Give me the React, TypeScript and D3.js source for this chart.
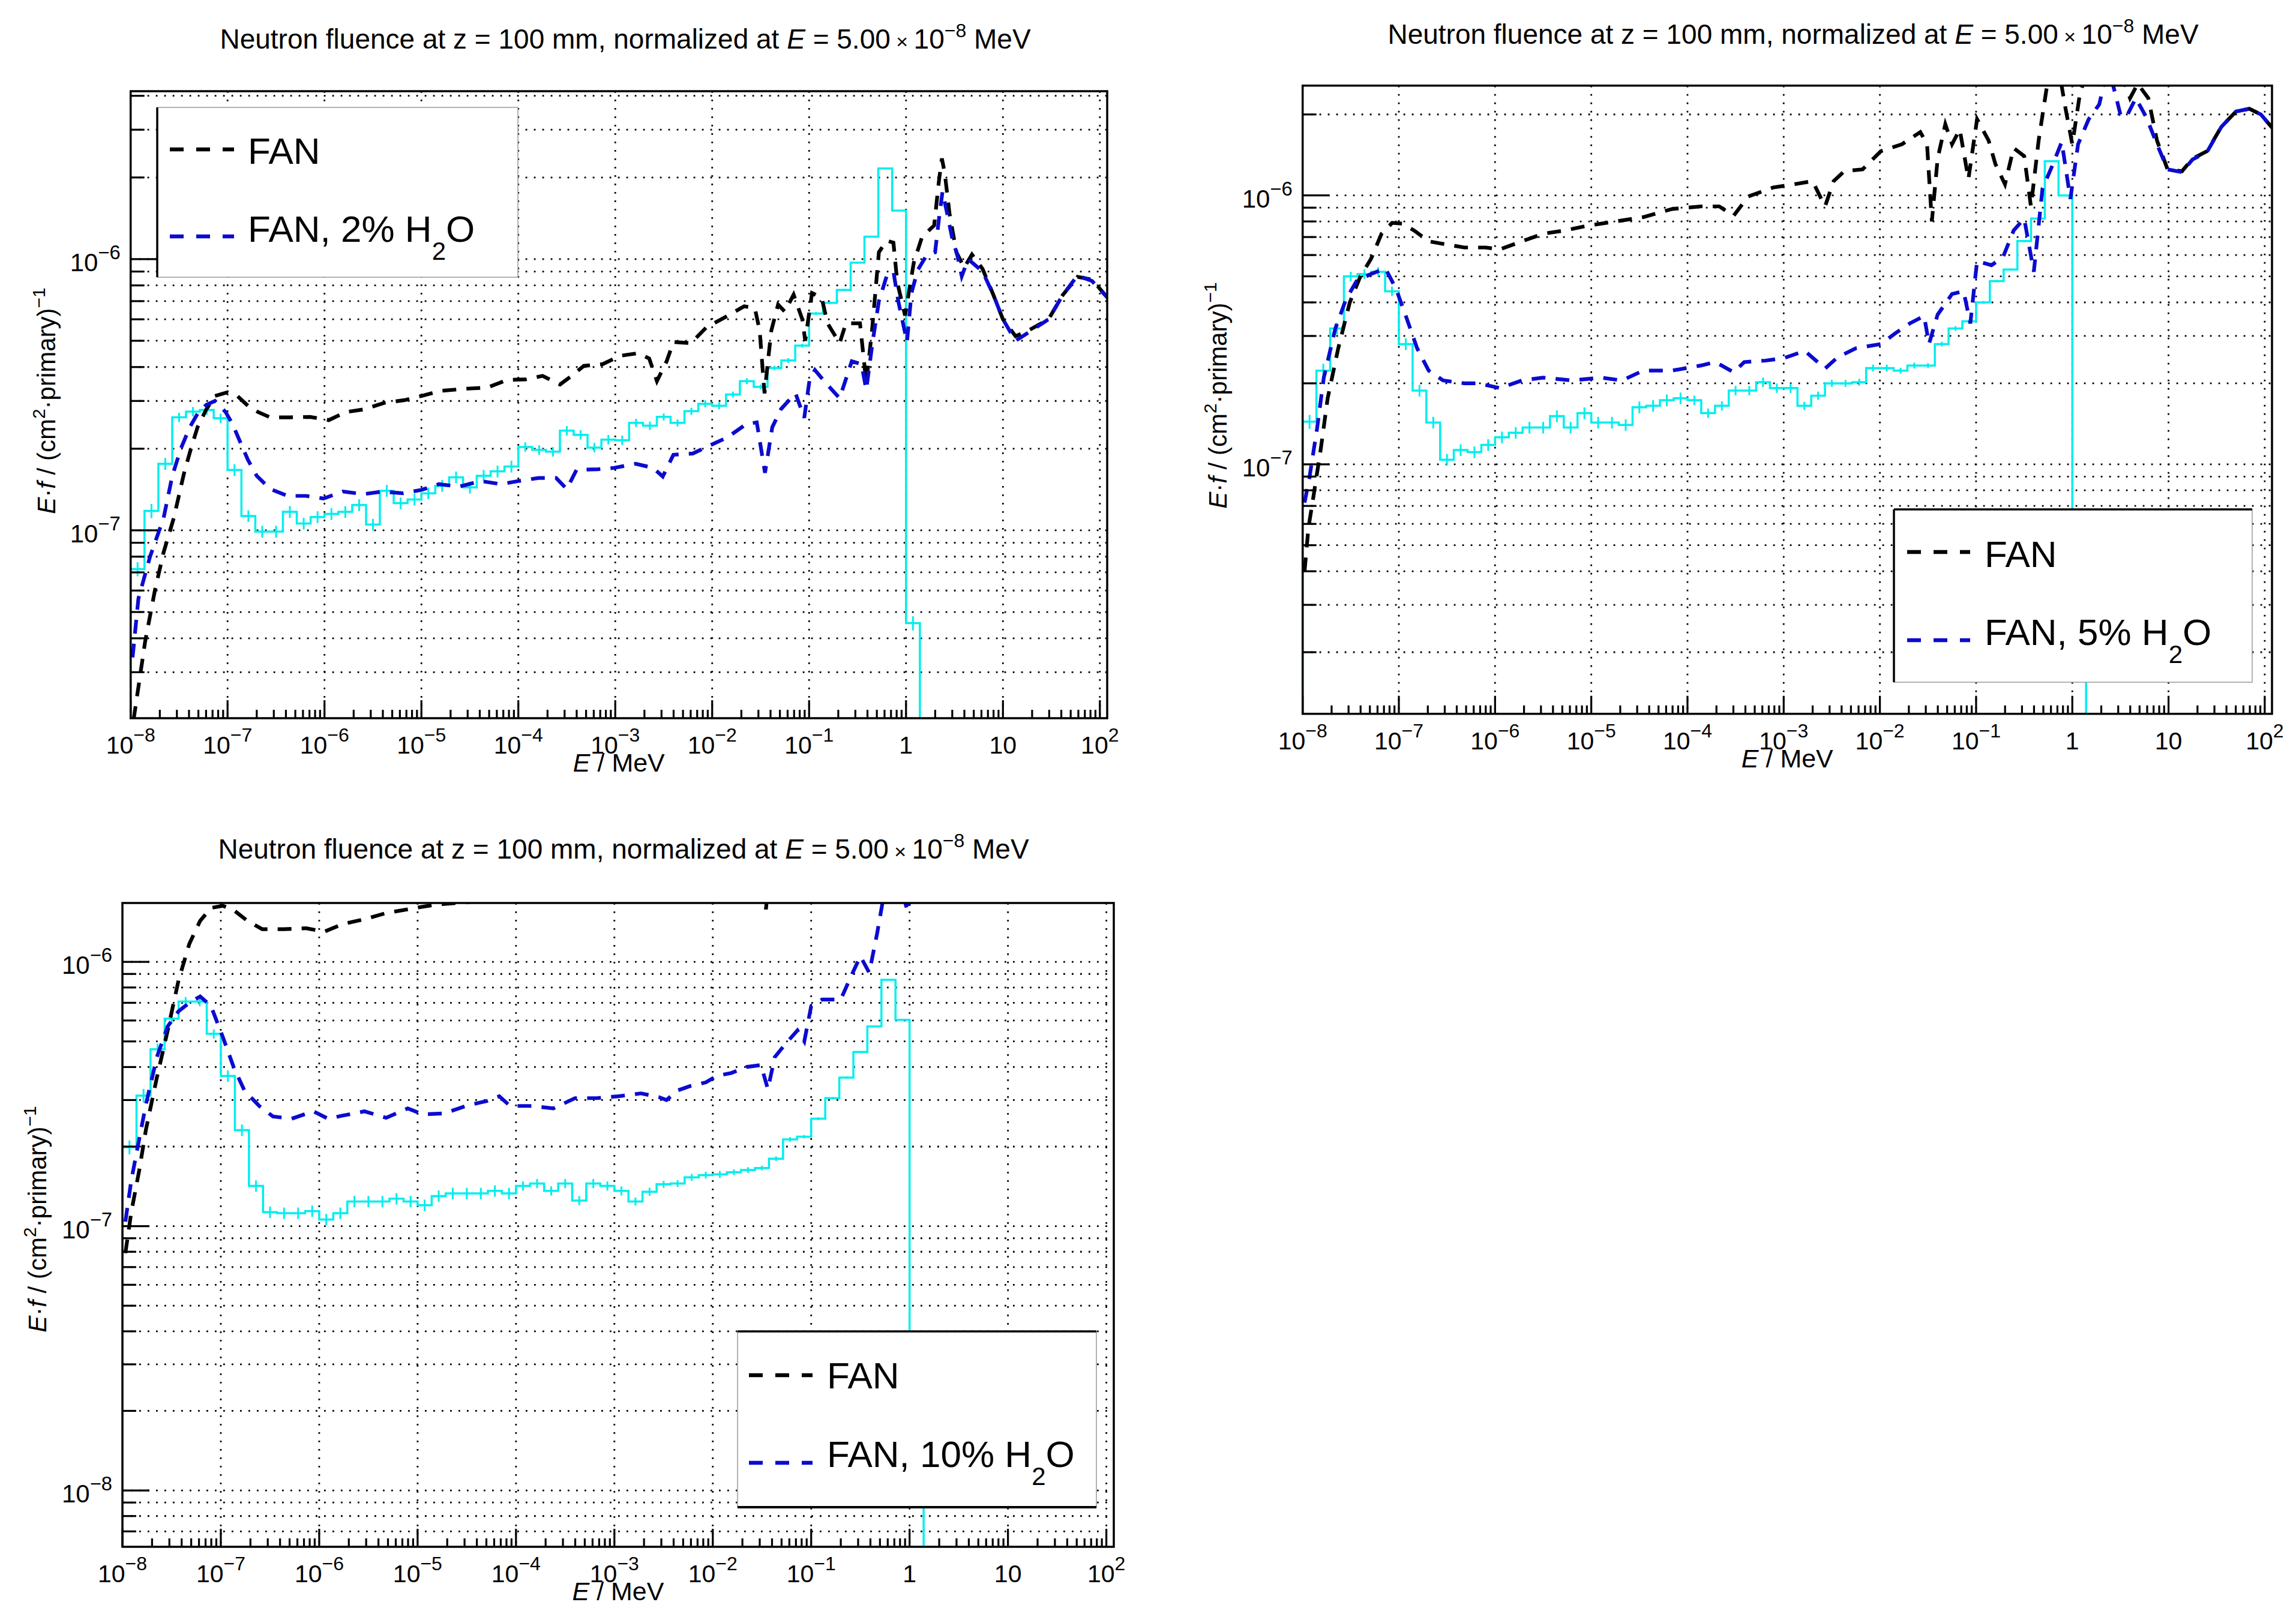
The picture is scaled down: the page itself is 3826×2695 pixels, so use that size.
import React from 'react';
import * as d3 from 'd3';

const W = 3826;
const H = 2695;
const FONT = '"Liberation Sans", Arial, Helvetica, sans-serif';
const BLUE = '#0b0bd0';
const CYAN = '#00eeee';

// energy axis, MeV
const X_DOMAIN: [number, number] = [1e-8, 119];
const X_DECADES = [-8, -7, -6, -5, -4, -3, -2, -1, 0, 1, 2];
const MINOR_MULT = [2, 3, 4, 5, 6, 7, 8, 9];

// histogram bin edges, log10(E / MeV), 7 bins per decade
const HIST_EDGES = [
  -8.000, -7.857, -7.714, -7.571, -7.429, -7.286, -7.143,
  -7.000, -6.857, -6.714, -6.571, -6.429, -6.286, -6.143,
  -6.000, -5.857, -5.714, -5.571, -5.429, -5.286, -5.143,
  -5.000, -4.857, -4.714, -4.571, -4.429, -4.286, -4.143,
  -4.000, -3.857, -3.714, -3.571, -3.429, -3.286, -3.143,
  -3.000, -2.857, -2.714, -2.571, -2.429, -2.286, -2.143,
  -2.000, -1.857, -1.714, -1.571, -1.429, -1.286, -1.143,
  -1.000, -0.857, -0.714, -0.571, -0.429, -0.286, -0.143,
  0.000, 0.143,
];

// relative errors of the histogram bins
const HIST_REL_ERR = [
  0.06, 0.06, 0.05, 0.04, 0.04, 0.04, 0.04, 0.05, 0.05, 0.05,
  0.05, 0.05, 0.05, 0.05, 0.05, 0.05, 0.05, 0.05, 0.05, 0.05,
  0.05, 0.05, 0.05, 0.05, 0.05, 0.05, 0.05, 0.05, 0.04, 0.04,
  0.04, 0.04, 0.04, 0.04, 0.04, 0.04, 0.035, 0.035, 0.03, 0.03,
  0.03, 0.03, 0.03, 0.025, 0.025, 0.02, 0.02, 0.02, 0.015, 0.012,
  0.01, 0.01, 0.008, 0.006, 0.005, 0.005, 0.06,
];

// panel 1 (2% H2O)
const HIST_2PCT = [
  7.2e-8, 1.18e-7, 1.76e-7, 2.61e-7, 2.74e-7, 2.78e-7, 2.59e-7, 1.67e-7, 1.13e-7, 9.9e-8,
  9.9e-8, 1.17e-7, 1.06e-7, 1.12e-7, 1.15e-7, 1.17e-7, 1.24e-7, 1.05e-7, 1.40e-7, 1.26e-7,
  1.30e-7, 1.37e-7, 1.46e-7, 1.57e-7, 1.44e-7, 1.59e-7, 1.65e-7, 1.72e-7, 2.03e-7, 1.98e-7,
  1.95e-7, 2.33e-7, 2.25e-7, 2.02e-7, 2.16e-7, 2.15e-7, 2.49e-7, 2.43e-7, 2.62e-7, 2.49e-7,
  2.75e-7, 2.93e-7, 2.88e-7, 3.17e-7, 3.55e-7, 3.38e-7, 3.97e-7, 4.23e-7, 4.8e-7, 6.3e-7,
  6.9e-7, 7.7e-7, 9.7e-7, 1.21e-6, 2.16e-6, 1.51e-6, 4.55e-8,
];
const FAN_1: [number, number][] = [
  [-7.97, 2.0e-8], [-7.85, 3.9e-8], [-7.75, 6.0e-8], [-7.66, 8.3e-8], [-7.555, 1.11e-7],
  [-7.45, 1.62e-7], [-7.38, 1.99e-7], [-7.31, 2.4e-7], [-7.22, 2.79e-7], [-7.13, 3.13e-7],
  [-7.0, 3.23e-7], [-6.9, 3.13e-7], [-6.79, 2.88e-7], [-6.685, 2.73e-7], [-6.56, 2.61e-7],
  [-6.36, 2.61e-7], [-6.15, 2.62e-7], [-5.955, 2.55e-7], [-5.78, 2.73e-7], [-5.6, 2.79e-7],
  [-5.385, 2.95e-7], [-5.175, 3.02e-7], [-5.0, 3.13e-7], [-4.8, 3.27e-7], [-4.53, 3.33e-7],
  [-4.32, 3.36e-7], [-4.11, 3.59e-7], [-3.93, 3.6e-7], [-3.75, 3.71e-7], [-3.57, 3.45e-7],
  [-3.45, 3.71e-7], [-3.325, 4.04e-7], [-3.13, 4.1e-7], [-2.95, 4.4e-7], [-2.76, 4.5e-7],
  [-2.65, 4.3e-7], [-2.57, 3.55e-7], [-2.47, 4.2e-7], [-2.4, 4.95e-7], [-2.22, 4.9e-7],
  [-2.06, 5.6e-7], [-1.87, 6.1e-7], [-1.67, 6.7e-7], [-1.56, 6.6e-7], [-1.51, 5.45e-7],
  [-1.46, 3.2e-7], [-1.39, 5.45e-7], [-1.32, 6.8e-7], [-1.25, 6.4e-7], [-1.16, 7.4e-7],
  [-1.07, 6.0e-7], [-1.04, 5.0e-7], [-0.97, 7.5e-7], [-0.87, 7.2e-7], [-0.81, 5.8e-7],
  [-0.685, 4.9e-7], [-0.62, 5.8e-7], [-0.475, 5.8e-7], [-0.41, 3.5e-7], [-0.35, 5.5e-7],
  [-0.28, 1.06e-6], [-0.2, 1.17e-6], [-0.13, 1.15e-6], [-0.09, 8.2e-7], [-0.01, 6.2e-7],
  [0.08, 9.7e-7], [0.166, 1.21e-6], [0.29, 1.33e-6], [0.34, 1.95e-6], [0.37, 2.35e-6],
  [0.4, 2.07e-6], [0.45, 1.46e-6], [0.52, 1.06e-6], [0.6, 9.3e-7], [0.68, 1.04e-6],
  [0.79, 9.2e-7], [0.9, 7.4e-7], [1.0, 6.0e-7], [1.13, 5.2e-7], [1.24, 5.4e-7],
  [1.47, 6.0e-7], [1.62, 7.4e-7], [1.77, 8.6e-7], [1.92, 8.4e-7], [2.08, 7.2e-7],
];
const WATER_2PCT: [number, number][] = [
  [-7.98, 3.4e-8], [-7.92, 5.6e-8], [-7.8, 8.0e-8], [-7.66, 1.11e-7], [-7.57, 1.59e-7],
  [-7.48, 2.01e-7], [-7.39, 2.4e-7], [-7.3, 2.73e-7], [-7.22, 2.9e-7], [-7.13, 3.0e-7],
  [-7.02, 2.73e-7], [-6.95, 2.47e-7], [-6.88, 2.16e-7], [-6.79, 1.82e-7], [-6.7, 1.59e-7],
  [-6.56, 1.42e-7], [-6.38, 1.34e-7], [-6.19, 1.34e-7], [-6.01, 1.31e-7], [-5.81, 1.39e-7],
  [-5.6, 1.36e-7], [-5.4, 1.39e-7], [-5.19, 1.37e-7], [-5.0, 1.41e-7], [-4.82, 1.48e-7],
  [-4.61, 1.45e-7], [-4.39, 1.52e-7], [-4.18, 1.48e-7], [-4.0, 1.52e-7], [-3.79, 1.56e-7],
  [-3.61, 1.56e-7], [-3.5, 1.42e-7], [-3.4, 1.67e-7], [-3.18, 1.68e-7], [-3.01, 1.7e-7],
  [-2.79, 1.76e-7], [-2.61, 1.7e-7], [-2.51, 1.58e-7], [-2.4, 1.9e-7], [-2.2, 1.92e-7],
  [-2.02, 2.06e-7], [-1.845, 2.2e-7], [-1.645, 2.47e-7], [-1.54, 2.5e-7], [-1.455, 1.63e-7],
  [-1.38, 2.4e-7], [-1.29, 2.8e-7], [-1.14, 3.2e-7], [-1.05, 2.6e-7], [-0.995, 3.6e-7],
  [-0.94, 3.9e-7], [-0.83, 3.5e-7], [-0.685, 3.07e-7], [-0.56, 4.2e-7], [-0.46, 4.1e-7],
  [-0.41, 3.3e-7], [-0.345, 4.95e-7], [-0.28, 7.0e-7], [-0.2, 8.65e-7], [-0.13, 9.0e-7],
  [-0.08, 7.0e-7], [0.01, 4.95e-7], [0.056, 7.5e-7], [0.12, 9.1e-7], [0.21, 1.03e-6],
  [0.3, 1.06e-6], [0.34, 1.41e-6], [0.376, 1.77e-6], [0.42, 1.5e-6], [0.475, 1.2e-6],
  [0.53, 1.03e-6], [0.575, 8.65e-7], [0.64, 1.0e-6], [0.79, 9.0e-7], [0.9, 7.4e-7],
  [1.0, 6.0e-7], [1.13, 5.0e-7], [1.24, 5.3e-7], [1.47, 6.0e-7], [1.62, 7.4e-7],
  [1.77, 8.7e-7], [1.92, 8.3e-7], [2.08, 7.2e-7],
];

// panel 2 (5% H2O)
const HIST_5PCT = [
  1.44e-7, 2.23e-7, 3.2e-7, 5.0e-7, 5.1e-7, 5.2e-7, 4.4e-7, 2.8e-7, 1.88e-7, 1.43e-7,
  1.04e-7, 1.13e-7, 1.11e-7, 1.18e-7, 1.26e-7, 1.31e-7, 1.37e-7, 1.37e-7, 1.51e-7, 1.37e-7,
  1.55e-7, 1.43e-7, 1.43e-7, 1.4e-7, 1.63e-7, 1.65e-7, 1.73e-7, 1.76e-7, 1.73e-7, 1.55e-7,
  1.65e-7, 1.88e-7, 1.88e-7, 2.02e-7, 1.92e-7, 1.92e-7, 1.65e-7, 1.8e-7, 2.0e-7, 2.0e-7,
  2.02e-7, 2.28e-7, 2.28e-7, 2.23e-7, 2.33e-7, 2.33e-7, 2.8e-7, 3.2e-7, 3.4e-7, 4.0e-7,
  4.8e-7, 5.3e-7, 6.76e-7, 8.2e-7, 1.34e-6, 1.0e-6, 3.0e-8,
];
const FAN_2: [number, number][] = [
  [-7.98, 4.0e-8], [-7.94, 5.8e-8], [-7.89, 7.5e-8], [-7.81, 1.15e-7], [-7.74, 1.76e-7],
  [-7.63, 2.7e-7], [-7.51, 4.0e-7], [-7.4, 5.0e-7], [-7.29, 5.8e-7], [-7.18, 7.2e-7],
  [-7.07, 7.9e-7], [-6.96, 7.85e-7], [-6.84, 7.4e-7], [-6.69, 6.75e-7], [-6.54, 6.6e-7],
  [-6.32, 6.4e-7], [-6.1, 6.4e-7], [-5.95, 6.3e-7], [-5.72, 6.75e-7], [-5.5, 7.2e-7],
  [-5.28, 7.4e-7], [-5.05, 7.7e-7], [-4.75, 8.0e-7], [-4.46, 8.3e-7], [-4.16, 8.9e-7],
  [-3.86, 9.1e-7], [-3.67, 9.1e-7], [-3.52, 8.4e-7], [-3.37, 9.9e-7], [-3.11, 1.07e-6],
  [-2.89, 1.1e-6], [-2.7, 1.13e-6], [-2.57, 9.1e-7], [-2.48, 1.13e-6], [-2.37, 1.23e-6],
  [-2.18, 1.25e-6], [-1.99, 1.46e-6], [-1.77, 1.55e-6], [-1.58, 1.72e-6], [-1.51, 1.55e-6],
  [-1.46, 8.0e-7], [-1.4, 1.37e-6], [-1.32, 1.84e-6], [-1.25, 1.55e-6], [-1.17, 1.76e-6],
  [-1.08, 1.15e-6], [-0.99, 1.92e-6], [-0.87, 1.6e-6], [-0.8, 1.31e-6], [-0.7, 1.1e-6],
  [-0.61, 1.5e-6], [-0.5, 1.4e-6], [-0.43, 9.1e-7], [-0.35, 1.6e-6], [-0.26, 2.6e-6],
  [-0.2, 2.9e-6], [-0.13, 2.8e-6], [-0.07, 2.1e-6], [0.0, 1.55e-6], [0.08, 2.4e-6],
  [0.17, 3.0e-6], [0.3, 3.4e-6], [0.38, 5.9e-6], [0.45, 3.7e-6], [0.53, 2.7e-6],
  [0.6, 2.3e-6], [0.68, 2.6e-6], [0.79, 2.3e-6], [0.88, 1.6e-6], [0.99, 1.25e-6],
  [1.14, 1.23e-6], [1.25, 1.37e-6], [1.4, 1.46e-6], [1.55, 1.8e-6], [1.7, 2.05e-6],
  [1.84, 2.1e-6], [1.96, 2.0e-6], [2.08, 1.78e-6],
];
const WATER_5PCT: [number, number][] = [
  [-7.98, 7.2e-8], [-7.93, 8.9e-8], [-7.85, 1.36e-7], [-7.78, 2.1e-7], [-7.66, 3.2e-7],
  [-7.55, 4.1e-7], [-7.44, 4.8e-7], [-7.29, 5.1e-7], [-7.14, 5.35e-7], [-7.03, 4.5e-7],
  [-6.92, 3.5e-7], [-6.81, 2.7e-7], [-6.69, 2.23e-7], [-6.54, 2.05e-7], [-6.32, 2.0e-7],
  [-6.17, 2.0e-7], [-5.95, 1.92e-7], [-5.72, 2.05e-7], [-5.5, 2.1e-7], [-5.2, 2.05e-7],
  [-4.9, 2.1e-7], [-4.68, 2.05e-7], [-4.46, 2.23e-7], [-4.16, 2.23e-7], [-3.86, 2.33e-7],
  [-3.71, 2.4e-7], [-3.52, 2.2e-7], [-3.41, 2.4e-7], [-3.19, 2.43e-7], [-3.0, 2.48e-7],
  [-2.78, 2.64e-7], [-2.57, 2.27e-7], [-2.44, 2.5e-7], [-2.25, 2.7e-7], [-1.99, 2.8e-7],
  [-1.84, 3.07e-7], [-1.69, 3.34e-7], [-1.54, 3.56e-7], [-1.49, 2.8e-7], [-1.4, 3.6e-7],
  [-1.25, 4.3e-7], [-1.13, 4.4e-7], [-1.06, 3.34e-7], [-0.99, 5.7e-7], [-0.84, 5.5e-7],
  [-0.72, 5.9e-7], [-0.61, 7.4e-7], [-0.5, 8.2e-7], [-0.4, 5.2e-7], [-0.31, 1.06e-6],
  [-0.2, 1.31e-6], [-0.11, 1.58e-6], [-0.02, 9.7e-7], [0.06, 1.55e-6], [0.17, 1.92e-6],
  [0.28, 2.18e-6], [0.36, 2.9e-6], [0.42, 2.6e-6], [0.5, 2.0e-6], [0.56, 1.95e-6],
  [0.66, 2.3e-6], [0.77, 1.95e-6], [0.88, 1.55e-6], [0.99, 1.25e-6], [1.14, 1.22e-6],
  [1.25, 1.36e-6], [1.4, 1.45e-6], [1.55, 1.8e-6], [1.7, 2.05e-6], [1.84, 2.1e-6],
  [1.96, 2.0e-6], [2.08, 1.78e-6],
];

// panel 3 (10% H2O)
const HIST_10PCT = [
  1.99e-7, 3.12e-7, 4.67e-7, 6.1e-7, 7.08e-7, 7.08e-7, 5.34e-7, 3.7e-7, 2.31e-7, 1.42e-7,
  1.13e-7, 1.12e-7, 1.12e-7, 1.14e-7, 1.06e-7, 1.12e-7, 1.24e-7, 1.24e-7, 1.24e-7, 1.27e-7,
  1.24e-7, 1.2e-7, 1.3e-7, 1.33e-7, 1.33e-7, 1.33e-7, 1.36e-7, 1.33e-7, 1.42e-7, 1.45e-7,
  1.36e-7, 1.45e-7, 1.25e-7, 1.45e-7, 1.42e-7, 1.36e-7, 1.24e-7, 1.35e-7, 1.44e-7, 1.45e-7,
  1.53e-7, 1.56e-7, 1.57e-7, 1.6e-7, 1.63e-7, 1.66e-7, 1.8e-7, 2.13e-7, 2.18e-7, 2.55e-7,
  3.05e-7, 3.65e-7, 4.56e-7, 5.7e-7, 8.55e-7, 6.03e-7, 2.0e-8,
];
const FAN_3: [number, number][] = [
  [-7.97, 7.9e-8], [-7.91, 1.13e-7], [-7.83, 1.62e-7], [-7.76, 2.33e-7], [-7.65, 3.65e-7],
  [-7.54, 5.5e-7], [-7.43, 8.5e-7], [-7.32, 1.17e-6], [-7.21, 1.43e-6], [-7.1, 1.6e-6],
  [-6.98, 1.63e-6], [-6.87, 1.57e-6], [-6.73, 1.43e-6], [-6.58, 1.33e-6], [-6.36, 1.33e-6],
  [-6.13, 1.34e-6], [-5.95, 1.3e-6], [-5.76, 1.39e-6], [-5.54, 1.45e-6], [-5.32, 1.53e-6],
  [-5.02, 1.6e-6], [-4.8, 1.65e-6], [-4.5, 1.68e-6], [-4.1, 1.8e-6], [-3.5, 1.85e-6],
  [-2.5, 2.4e-6], [-1.6, 3.3e-6], [-1.51, 2.7e-6], [-1.46, 1.58e-6], [-1.4, 2.7e-6],
  [-1.0, 3.7e-6], [0.0, 3.1e-6], [1.0, 3.0e-6], [2.08, 3.6e-6],
];
const WATER_10PCT: [number, number][] = [
  [-7.97, 1.04e-7], [-7.91, 1.49e-7], [-7.83, 2.13e-7], [-7.76, 2.9e-7], [-7.65, 4.36e-7],
  [-7.54, 5.7e-7], [-7.43, 6.5e-7], [-7.32, 7.0e-7], [-7.21, 7.4e-7], [-7.1, 6.8e-7],
  [-6.98, 5.2e-7], [-6.87, 4.0e-7], [-6.76, 3.26e-7], [-6.61, 2.85e-7], [-6.47, 2.6e-7],
  [-6.28, 2.55e-7], [-6.06, 2.72e-7], [-5.91, 2.55e-7], [-5.76, 2.62e-7], [-5.54, 2.72e-7],
  [-5.32, 2.57e-7], [-5.1, 2.79e-7], [-4.95, 2.65e-7], [-4.73, 2.67e-7], [-4.51, 2.85e-7],
  [-4.29, 2.98e-7], [-4.17, 3.1e-7], [-4.06, 2.85e-7], [-3.84, 2.85e-7], [-3.62, 2.79e-7],
  [-3.4, 3.05e-7], [-3.18, 3.05e-7], [-2.96, 3.1e-7], [-2.73, 3.18e-7], [-2.55, 3.08e-7],
  [-2.47, 3.0e-7], [-2.36, 3.26e-7], [-2.22, 3.4e-7], [-2.07, 3.5e-7], [-1.96, 3.7e-7],
  [-1.81, 3.8e-7], [-1.66, 4.0e-7], [-1.51, 4.07e-7], [-1.44, 3.3e-7], [-1.37, 4.36e-7],
  [-1.26, 4.9e-7], [-1.14, 5.5e-7], [-1.07, 5.0e-7], [-1.0, 6.8e-7], [-0.89, 7.2e-7],
  [-0.7, 7.2e-7], [-0.59, 8.9e-7], [-0.5, 1.05e-6], [-0.41, 9.1e-7], [-0.33, 1.28e-6],
  [-0.26, 1.8e-6], [-0.13, 2.2e-6], [-0.02, 1.55e-6], [0.06, 2.3e-6], [0.3, 3.0e-6],
  [1.0, 3.0e-6], [2.08, 3.5e-6],
];

const WATER_PCT = ['2%', '5%', '10%'];
const Y_LABEL_DECADES = [[-7, -6], [-7, -6], [-8, -7, -6]];

interface Layout {
  x0: number; x1: number; y0: number; y1: number;
  yMin: number; yMax: number;
  titleX: number; titleY: number;
  yTitleX: number; yTitleY: number;
  leg: { x: number; y: number; w: number; h: number; textX: number; rows: number[]; lineY: number[]; lx0: number; lx1: number; borders: string };
}

const LAYOUTS: Layout[] = [
  {
    x0: 217.7, x1: 1845, y0: 152, y1: 1197, yMin: 2.03e-8, yMax: 4.16e-6,
    titleX: 1042, titleY: 81, yTitleX: 92, yTitleY: 668,
    leg: { x: 262, y: 179, w: 601, h: 283, textX: 413, rows: [273, 403], lineY: [249, 394], lx0: 283, lx1: 390, borders: 'left' },
  },
  {
    x0: 2170.7, x1: 3786, y0: 142.7, y1: 1189.7, yMin: 1.18e-8, yMax: 2.56e-6,
    titleX: 2988, titleY: 73, yTitleX: 2044, yTitleY: 659,
    leg: { x: 3156, y: 849, w: 597, h: 288, textX: 3307, rows: [945, 1075], lineY: [920, 1067], lx0: 3178, lx1: 3283, borders: 'topleft' },
  },
  {
    x0: 204, x1: 1856, y0: 1505, y1: 2578, yMin: 6.12e-9, yMax: 1.67e-6,
    titleX: 1039, titleY: 1431, yTitleX: 77, yTitleY: 2032,
    leg: { x: 1229, y: 2219, w: 598, h: 293, textX: 1378, rows: [2314, 2445], lineY: [2292, 2438], lx0: 1248, lx1: 1354, borders: 'topbottom' },
  },
];

const PowLabel: React.FC<{ d: number; x: number; y: number; anchor: string; size: number }> = ({ d, x, y, anchor, size }) => {
  if (d === 0) return <text x={x} y={y} textAnchor={anchor} fontSize={size}>1</text>;
  if (d === 1) return <text x={x} y={y} textAnchor={anchor} fontSize={size}>10</text>;
  const exp = d < 0 ? `\u2212${-d}` : `${d}`;
  return (
    <text x={x} y={y} textAnchor={anchor} fontSize={size}>
      10<tspan dy={-20} fontSize={size * 0.78}>{exp}</tspan>
    </text>
  );
};

interface PanelProps {
  idx: number;
  lay: Layout;
  fan: [number, number][];
  water: [number, number][];
  hist: number[];
}

const Panel: React.FC<PanelProps> = ({ idx, lay, fan, water, hist }) => {
  const { x0, x1, y0, y1 } = lay;
  const x = d3.scaleLog().domain(X_DOMAIN).range([x0, x1]);
  const y = d3.scaleLog().domain([lay.yMin, lay.yMax]).range([y1, y0]);
  const line = d3.line<[number, number]>().x(d => x(10 ** d[0])).y(d => y(d[1]));

  // step histogram
  const edges = HIST_EDGES.map(e => x(10 ** e));
  let hp = `M${edges[0]},${y1 + 20}`;
  hist.forEach((v, i) => {
    hp += `L${edges[i]},${y(v)}L${edges[i + 1]},${y(v)}`;
  });
  hp += `L${edges[hist.length]},${y1 + 20}`;

  const xMinor: number[] = [];
  X_DECADES.forEach(d => MINOR_MULT.forEach(m => {
    const v = m * 10 ** d;
    if (v > X_DOMAIN[0] && v < X_DOMAIN[1]) xMinor.push(v);
  }));
  const yTicks = y.ticks();
  const isMajor = (t: number) => Math.abs(Math.log10(t) - Math.round(Math.log10(t))) < 1e-6;
  const clipId = `clip-${idx}`;
  const leg = lay.leg;

  return (
    <g fontFamily={FONT}>
      <defs>
        <clipPath id={clipId}>
          <rect x={x0} y={y0} width={x1 - x0} height={y1 - y0} />
        </clipPath>
      </defs>

      {/* grid */}
      <g stroke="#000" strokeWidth={2.8} strokeDasharray="2.8 11.2">
        {X_DECADES.filter(d => d > -8).map(d => (
          <line key={`gx${d}`} x1={x(10 ** d)} x2={x(10 ** d)} y1={y0} y2={y1} />
        ))}
        {yTicks.map((t, i) => (
          <line key={`gy${i}`} x1={x0} x2={x1} y1={y(t)} y2={y(t)} />
        ))}
      </g>

      {/* curves */}
      <g clipPath={`url(#${clipId})`}>
        <path d={hp} fill="none" stroke={CYAN} strokeWidth={3.5} />
        {hist.map((v, i) => {
          const cx = x(10 ** ((HIST_EDGES[i] + HIST_EDGES[i + 1]) / 2));
          const e = HIST_REL_ERR[i];
          return <line key={`e${i}`} x1={cx} x2={cx} y1={y(v * (1 - e))} y2={y(v * (1 + e))} stroke={CYAN} strokeWidth={3} />;
        })}
        <path d={line(fan) ?? ''} fill="none" stroke="#000" strokeWidth={6.2} strokeDasharray="23 17" />
        <path d={line(water) ?? ''} fill="none" stroke={BLUE} strokeWidth={6.2} strokeDasharray="23 17" />
      </g>

      {/* frame */}
      <rect x={x0} y={y0} width={x1 - x0} height={y1 - y0} fill="none" stroke="#000" strokeWidth={3.5} />

      {/* ticks */}
      <g stroke="#000" strokeWidth={3.2}>
        {X_DECADES.map(d => (
          <line key={`xt${d}`} x1={x(10 ** d)} x2={x(10 ** d)} y1={y1} y2={y1 - 30} />
        ))}
        {xMinor.map((v, i) => (
          <line key={`xm${i}`} x1={x(v)} x2={x(v)} y1={y1} y2={y1 - 14} />
        ))}
        {yTicks.map((t, i) => (
          <line key={`yt${i}`} x1={x0} x2={x0 + (isMajor(t) ? 45 : 23)} y1={y(t)} y2={y(t)} />
        ))}
      </g>

      {/* tick labels */}
      {X_DECADES.map(d => (
        <PowLabel key={`xl${d}`} d={d} x={x(10 ** d)} y={y1 + 59} anchor="middle" size={41} />
      ))}
      {Y_LABEL_DECADES[idx].map(d => (
        <PowLabel key={`yl${d}`} d={d} x={x0 - 17} y={y(10 ** d) + 20} anchor="end" size={42} />
      ))}

      {/* axis titles */}
      <text x={(x0 + x1) / 2} y={y1 + 89} textAnchor="middle" fontSize={43}>
        <tspan fontStyle="italic">E</tspan> / MeV
      </text>
      <text transform={`translate(${lay.yTitleX},${lay.yTitleY}) rotate(-90)`} textAnchor="middle" fontSize={42}>
        <tspan fontStyle="italic">E</tspan>·<tspan fontStyle="italic">f</tspan> / (cm
        <tspan dy={-17} fontSize={30}>2</tspan>
        <tspan dy={17}>·primary)</tspan>
        <tspan dy={-17} fontSize={30}>{'\u22121'}</tspan>
      </text>

      {/* title */}
      <text x={lay.titleX} y={lay.titleY} textAnchor="middle" fontSize={46}>
        Neutron fluence at z = 100 mm, normalized at <tspan fontStyle="italic">E</tspan> = 5.00
        <tspan fontSize={34}> × </tspan>10
        <tspan dy={-19} fontSize={32}>{'\u22128'}</tspan>
        <tspan dy={19}> MeV</tspan>
      </text>

      {/* legend */}
      <g>
        <rect x={leg.x} y={leg.y} width={leg.w} height={leg.h} fill="#fff" stroke="#9a9a9a" strokeWidth={1.5} />
        {(leg.borders === 'left' || leg.borders === 'topleft') && (
          <line x1={leg.x} x2={leg.x} y1={leg.y} y2={leg.y + leg.h} stroke="#000" strokeWidth={3.5} />
        )}
        {(leg.borders === 'topleft' || leg.borders === 'topbottom') && (
          <line x1={leg.x} x2={leg.x + leg.w} y1={leg.y} y2={leg.y} stroke="#000" strokeWidth={3.5} />
        )}
        {leg.borders === 'topbottom' && (
          <line x1={leg.x} x2={leg.x + leg.w} y1={leg.y + leg.h} y2={leg.y + leg.h} stroke="#000" strokeWidth={4} />
        )}
        <line x1={leg.lx0} x2={leg.lx1} y1={leg.lineY[0]} y2={leg.lineY[0]} stroke="#000" strokeWidth={6.5} strokeDasharray="23 21" />
        <line x1={leg.lx0} x2={leg.lx1} y1={leg.lineY[1]} y2={leg.lineY[1]} stroke={BLUE} strokeWidth={6.5} strokeDasharray="23 21" />
        <text x={leg.textX} y={leg.rows[0]} fontSize={62}>FAN</text>
        <text x={leg.textX} y={leg.rows[1]} fontSize={62}>
          FAN, {WATER_PCT[idx]} H<tspan dy={30} fontSize={42}>2</tspan><tspan dy={-30}>O</tspan>
        </text>
      </g>
    </g>
  );
};

const App: React.FC = () => {
  const fans = [FAN_1, FAN_2, FAN_3];
  const waters = [WATER_2PCT, WATER_5PCT, WATER_10PCT];
  const hists = [HIST_2PCT, HIST_5PCT, HIST_10PCT];
  return (
    <div style={{ position: 'absolute', left: 0, top: 0 }}>
      <svg width={W} height={H} style={{ display: 'block', background: '#fff' }}>
        <rect width={W} height={H} fill="#fff" />
        {LAYOUTS.map((lay, i) => (
          <Panel key={i} idx={i} lay={lay} fan={fans[i]} water={waters[i]} hist={hists[i]} />
        ))}
      </svg>
    </div>
  );
};

export default App;
